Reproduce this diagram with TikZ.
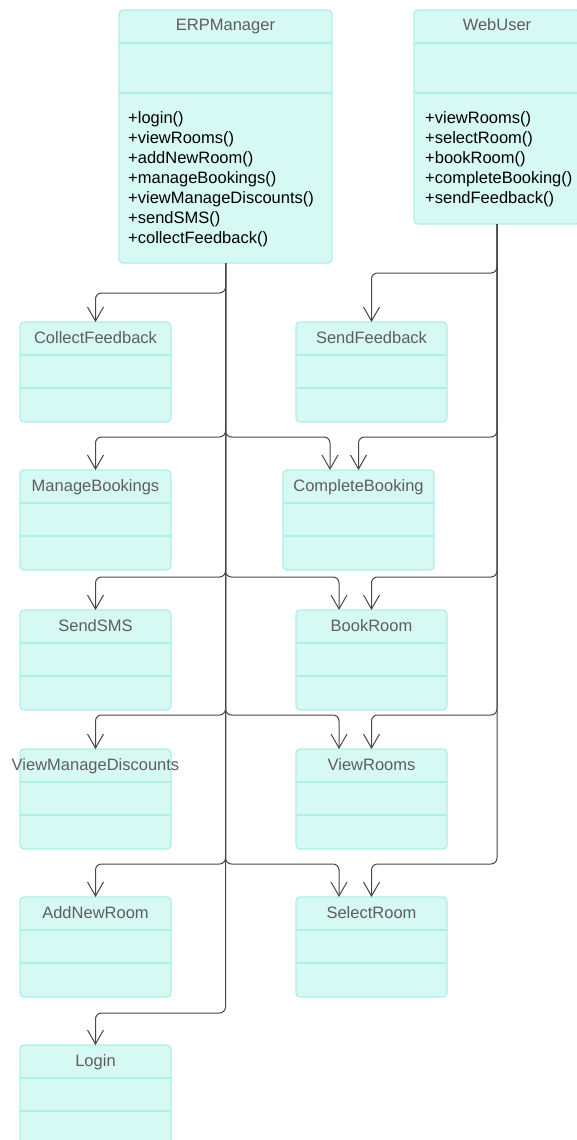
\documentclass[tikz,border=0pt]{standalone}
\usepackage{fontspec}
\setmainfont{Liberation Sans}
\usetikzlibrary{arrows.meta,calc}
\definecolor{boxfill}{HTML}{D6F9F3}
\definecolor{boxline}{HTML}{ADF0E6}
\definecolor{titlecol}{HTML}{5E5E5E}
\definecolor{linecol}{HTML}{474747}
\newcommand\clsbox[8]{%
  \node[cls, minimum width=#4pt, minimum height=#5pt] (#1) at (#2,-#3) {};
  \draw[divl] ($(#1.north west)+(0,-#7)$) -- ($(#1.north east)+(0,-#7)$);
  \draw[divl] ($(#1.north west)+(0,-#8)$) -- ($(#1.north east)+(0,-#8)$);
  \node[ttl] (#1-t) at ($(#1.north)+(0,-21)$) {#6};
}
\begin{document}
\begin{tikzpicture}[x=1pt,y=1pt,
  cls/.style={draw=boxline, fill=boxfill, line width=1.3pt, rounded corners=4pt, anchor=north west, inner sep=0pt, outer sep=0pt},
  ttl/.style={font=\fontsize{16.5}{20}\selectfont, text=titlecol, anchor=base, inner sep=0pt},
  meth/.style={font=\fontsize{16.5}{20}\selectfont, text=black, anchor=base west, inner sep=0pt},
  divl/.style={draw=boxline, line width=1.3pt},
  conn/.style={draw=linecol, line width=1pt, rounded corners=6pt, -{Straight Barb[length=14pt,width=16pt]}}]
\useasboundingbox (0,0) rectangle (576,-1140);

% main classes
\clsbox{erp}{119}{10}{213}{253}{ERPManager}{33}{83}
\clsbox{web}{414}{10}{166}{214}{WebUser}{33}{83}
\foreach \t [count=\i] in {{+login()},{+viewRooms()},{+addNewRoom()},{+manageBookings()},{+viewManageDiscounts()},{+sendSMS()},{+collectFeedback()}}
  \node[meth] (erpm\i) at (128,{-123-20*(\i-1)}) {\t};
\foreach \t [count=\i] in {{+viewRooms()},{+selectRoom()},{+bookRoom()},{+completeBooking()},{+sendFeedback()}}
  \node[meth] (webm\i) at (425,{-123-20*(\i-1)}) {\t};

% left column
\clsbox{cf}{20}{322}{151}{100}{CollectFeedback}{33}{66}
\clsbox{mb}{20}{470}{151}{100}{ManageBookings}{33}{66}
\clsbox{sms}{20}{610}{151}{100}{SendSMS}{33}{66}
\clsbox{vmd}{20}{749}{151}{100}{ViewManageDiscounts}{33}{66}
\clsbox{anr}{20}{897}{151}{100}{AddNewRoom}{33}{66}
\clsbox{lg}{20}{1045}{151}{100}{Login}{33}{66}

% right column
\clsbox{sf}{296}{322}{151}{100}{SendFeedback}{33}{66}
\clsbox{cb}{283}{470}{151}{100}{CompleteBooking}{33}{66}
\clsbox{br}{296}{610}{151}{100}{BookRoom}{33}{66}
\clsbox{vr}{296}{749}{151}{100}{ViewRooms}{33}{66}
\clsbox{sr}{296}{897}{151}{100}{SelectRoom}{33}{66}

% branch levels
\coordinate (L1) at (0,-293);
\coordinate (W1) at (0,-273);
\coordinate (L2) at (0,-437);
\coordinate (L3) at (0,-577);
\coordinate (L4) at (0,-715);
\coordinate (L5) at (0,-864);
\coordinate (L6) at (0,-1013);

% entry points of ERPManager arrows into right boxes
\coordinate (cbin) at ([xshift=-28.5pt]cb.north);
\coordinate (brin) at ([xshift=-32.5pt]br.north);
\coordinate (vrin) at ([xshift=-32.5pt]vr.north);
\coordinate (srin) at ([xshift=-32.5pt]sr.north);

% ERPManager connectors
\draw[conn] (erp.south) -- (erp.south |- L1) -- (cf.north |- L1) -- (cf.north);
\draw[conn] (erp.south) -- (erp.south |- L2) -- (mb.north |- L2) -- (mb.north);
\draw[conn] (erp.south) -- (erp.south |- L3) -- (sms.north |- L3) -- (sms.north);
\draw[conn] (erp.south) -- (erp.south |- L4) -- (vmd.north |- L4) -- (vmd.north);
\draw[conn] (erp.south) -- (erp.south |- L5) -- (anr.north |- L5) -- (anr.north);
\draw[conn] (erp.south) -- (erp.south |- L6) -- (lg.north |- L6) -- (lg.north);
\draw[conn] (erp.south) -- (erp.south |- L2) -- (cbin |- L2) -- (cbin);
\draw[conn] (erp.south) -- (erp.south |- L3) -- (brin |- L3) -- (brin);
\draw[conn] (erp.south) -- (erp.south |- L4) -- (vrin |- L4) -- (vrin);
\draw[conn] (erp.south) -- (erp.south |- L5) -- (srin |- L5) -- (srin);

% WebUser connectors
\draw[conn] (web.south) -- (web.south |- W1) -- (sf.north |- W1) -- (sf.north);
\draw[conn] (web.south) -- (web.south |- L2) -- (cb.north |- L2) -- (cb.north);
\draw[conn] (web.south) -- (web.south |- L3) -- (br.north |- L3) -- (br.north);
\draw[conn] (web.south) -- (web.south |- L4) -- (vr.north |- L4) -- (vr.north);
\draw[conn] (web.south) -- (web.south |- L5) -- (sr.north |- L5) -- (sr.north);
\end{tikzpicture}
\end{document}
